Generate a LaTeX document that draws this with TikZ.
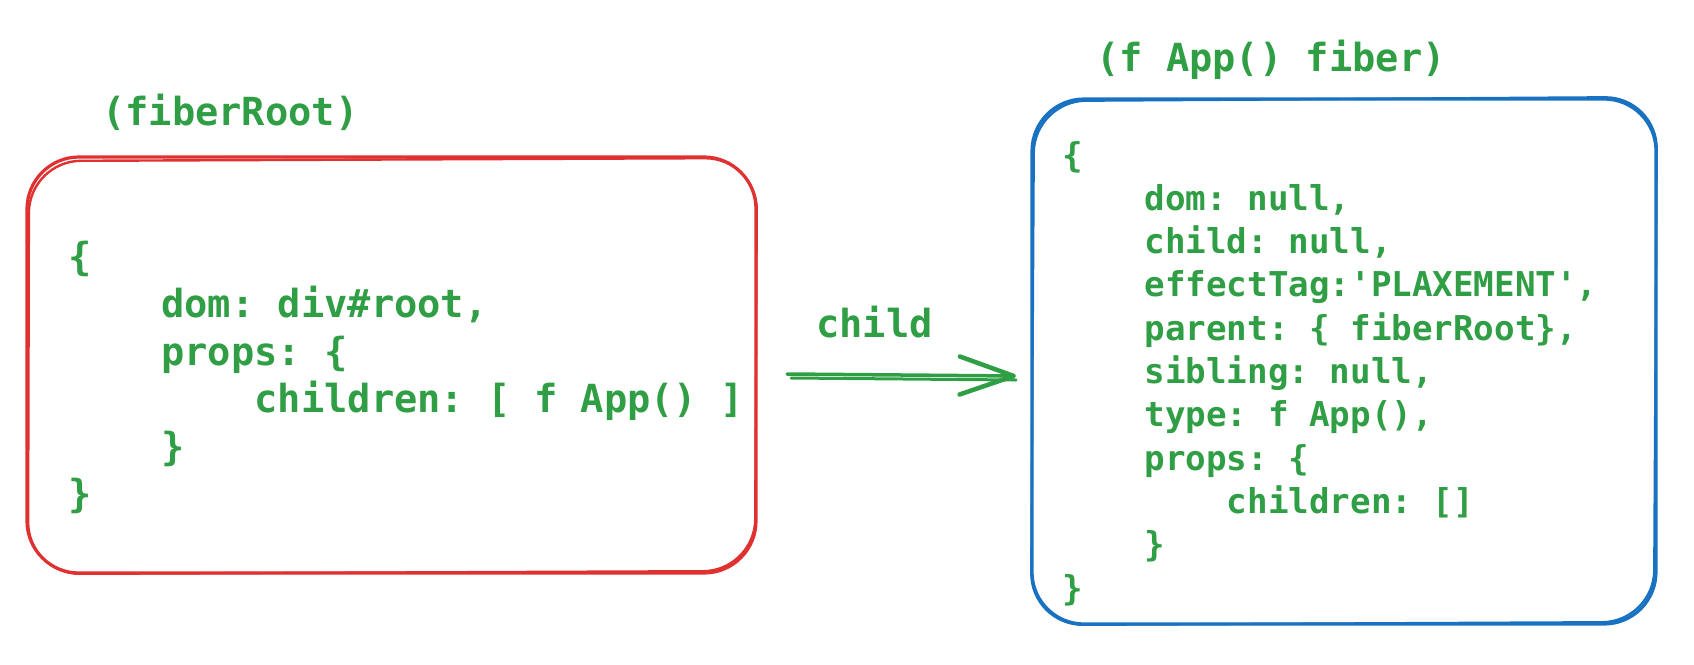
\documentclass[tikz,border=0pt]{standalone}
\usepackage{fontspec}
\setmonofont{DejaVu Sans Mono}
\usetikzlibrary{arrows.meta,calc}
\definecolor{xgreen}{HTML}{2F9E44}
\definecolor{xred}{HTML}{E03131}
\definecolor{xblue}{HTML}{1971C2}
\begin{document}
\begin{tikzpicture}[x=1pt,y=-1pt,
  codeL/.style={font=\ttfamily\bfseries\fontsize{38.7}{47.5}\selectfont, text=xgreen, inner sep=0pt, anchor=base west},
  codeR/.style={font=\ttfamily\bfseries\fontsize{34.2}{43.3}\selectfont, text=xgreen, inner sep=0pt, anchor=base west},
  boxline/.style={line width=3.2pt, rounded corners=52pt},
  conn/.style={xgreen, line width=3.5pt, line cap=round},
]
\useasboundingbox (0,0) rectangle (1694,664);
% red box (fiberRoot)
\node[draw=xred, boxline, minimum width=729pt, minimum height=416pt] (root) at (391.5,365) {};
\draw[xred, boxline, line width=2.4pt] (29,161) -- (757,158) -- (755,571) -- (28,574) -- cycle;
% blue box (App fiber)
\node[draw=xblue, boxline, minimum width=624pt, minimum height=525pt] (fib) at (1344,361.5) {};
\draw[xblue, boxline, line width=2.4pt] (1034,101) -- (1657,97) -- (1654,622) -- (1031,625) -- cycle;
% labels
\node[codeL] (rootlbl) at (102,125) {(fiberRoot)};
\node[codeL] (fiblbl) at (1096,71) {(f App() fiber)};
% code
\node[codeL] (rootcode) at (68,270) {\begin{tabular}[t]{@{}l@{}}\{\\~~~~dom: div\#root,\\~~~~props: \{\\~~~~~~~~children: [ f App() ]\\~~~~\}\\\}\end{tabular}};
\node[codeR] (fibcode) at (1062,167) {\begin{tabular}[t]{@{}l@{}}\{\\~~~~dom: null,\\~~~~child: null,\\~~~~effectTag:'PLAXEMENT',\\~~~~parent: \{ fiberRoot\},\\~~~~sibling: null,\\~~~~type: f App(),\\~~~~props: \{\\~~~~~~~~children: []\\~~~~\}\\\}\end{tabular}};
% arrow
\coordinate (a1) at (787,374);
\coordinate (a2) at (1016,376);
\draw[conn, -{Straight Barb[length=54pt,width=38pt,line width=4.5pt,round]}] (a1) -- (a2);
\draw[conn, line width=3pt] ($(a1)+(4,4)$) -- ($(a2)+(0,4)$);
\node[codeL] (childlbl) at (816,337) {child};
\end{tikzpicture}
\end{document}
